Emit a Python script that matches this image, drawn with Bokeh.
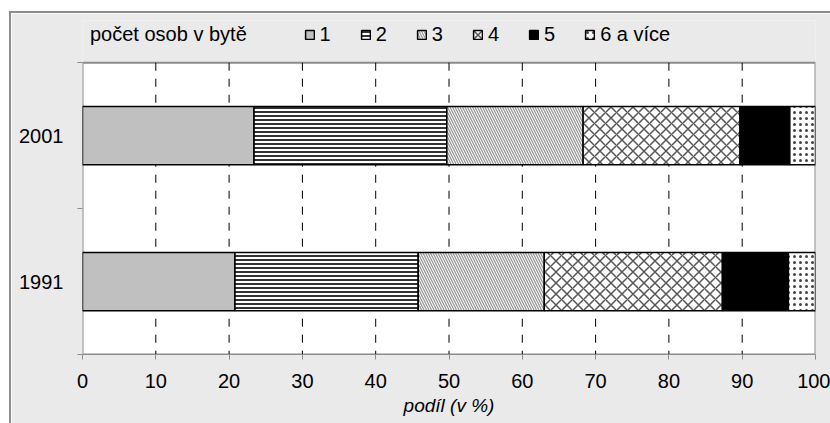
from bokeh.plotting import figure
from bokeh.models import FixedTicker, ColumnDataSource, Legend, LegendItem, Range1d
from bokeh.embed import file_html
from bokeh.resources import INLINE

# ---- data ----
years = ["1991", "2001"]
groups = ["1", "2", "3", "4", "5", "6 a více"]
persons_1 = [20.8, 23.4]
persons_2 = [25.0, 26.3]
persons_3 = [17.2, 18.6]
persons_4 = [24.3, 21.4]
persons_5 = [9.0, 6.8]
persons_6 = [3.7, 3.5]
x_ticks = [0, 10, 20, 30, 40, 50, 60, 70, 80, 90, 100]
legend_title = "počet osob v bytě"
x_title = "podíl (v %)"

FONT = "Liberation Sans"
GRAY = "#8c8c8c"
BG = "#eaeaea"

n = len(years)
ypos = [i + 0.5 for i in range(n)]
keys = ["c1", "c2", "c3", "c4", "c5", "c6"]
src = ColumnDataSource(dict(y=ypos, c1=persons_1, c2=persons_2, c3=persons_3,
                            c4=persons_4, c5=persons_5, c6=persons_6))

# frame is 332 px tall; the bar area (0..n) takes the lower 290 px,
# the upper part is the legend band
p = figure(width=821, height=412, x_range=Range1d(0, 100), y_range=Range1d(0, n * 332 / 290),
           output_backend="svg", toolbar_location=None,
           min_border_left=71, min_border_right=17, min_border_top=7, min_border_bottom=71,
           border_fill_color=BG, background_fill_color=BG, outline_line_color=None)
p.styles = {"margin-left": "9px", "margin-top": "11px",
            "border-left": "2px solid #8c8c8c", "border-top": "2px solid #8c8c8c"}

# white plot area with grey border
p.quad(left=[x_ticks[0]], right=[x_ticks[-1]], bottom=[0], top=[n],
       fill_color="white", line_color=GRAY, line_width=2)

# dashed vertical gridlines
p.segment(x0=x_ticks[1:-1], y0=[n] * (len(x_ticks) - 2), x1=x_ticks[1:-1], y1=[0] * (len(x_ticks) - 2),
          line_color="black", line_width=1, line_dash="8 8")

rends = p.hbar_stack(keys, y="y", height=0.4, source=src,
                     fill_color=["#c0c0c0", "white", "white", "white", "black", "white"],
                     hatch_pattern=[" ", "-", "\\", "x", " ", "."],
                     hatch_color=["#c0c0c0", "#333333", "#999999", "#555555", "black", "#444444"],
                     hatch_scale=[4, 4, 5, 11, 4, 6],
                     hatch_weight=[1, 2, 1.3, 1.5, 1, 1.5],
                     line_color="black", line_width=1.5)

# invisible zero-width helper bar that only carries the legend title text
dummy = p.hbar(y=ypos[:1], left=[0], right=[0], height=0.4,
               fill_color=None, line_color=None)

# x axis
xa = p.xaxis[0]
xa.ticker = FixedTicker(ticks=x_ticks)
xa.major_tick_in = 0
xa.major_tick_out = 5
xa.minor_tick_line_color = None
xa.axis_line_color = GRAY
xa.major_tick_line_color = GRAY
xa.major_label_text_font = FONT
xa.major_label_text_font_size = "20px"
xa.major_label_text_color = "black"
xa.major_label_standoff = 14
xa.axis_label = x_title
xa.axis_label_text_font = FONT
xa.axis_label_text_font_style = "italic"
xa.axis_label_text_font_size = "19px"
xa.axis_label_text_color = "black"
xa.axis_label_standoff = 4

# y axis
ya = p.yaxis[0]
ya.ticker = FixedTicker(ticks=ypos, minor_ticks=[i for i in range(n + 1)])
ya.major_label_overrides = {ypos[i]: years[i] for i in range(n)}
ya.major_tick_in = 0
ya.major_tick_out = 0
ya.minor_tick_in = 0
ya.minor_tick_out = 5
ya.minor_tick_line_color = GRAY
ya.axis_line_color = None
ya.major_label_text_font = FONT
ya.major_label_text_font_size = "20px"
ya.major_label_text_color = "black"
ya.major_label_standoff = 14

p.xgrid.grid_line_color = None
p.ygrid.grid_line_color = None

# legend in the band above the bar area
items = [LegendItem(label=legend_title + "     ", renderers=[dummy])]
items += [LegendItem(label=groups[i], renderers=[rends[i]]) for i in range(len(groups))]
lg = Legend(items=items, orientation="horizontal", location=(-8, 308),
            padding=0, margin=0, spacing=29, glyph_width=11, glyph_height=11,
            label_width=8, label_standoff=5, label_text_font=FONT, label_text_font_size="20px",
            label_text_color="black",
            background_fill_alpha=0, border_line_color=None)
p.add_layout(lg, "center")

open("out.html", "w").write(file_html(p, INLINE))
